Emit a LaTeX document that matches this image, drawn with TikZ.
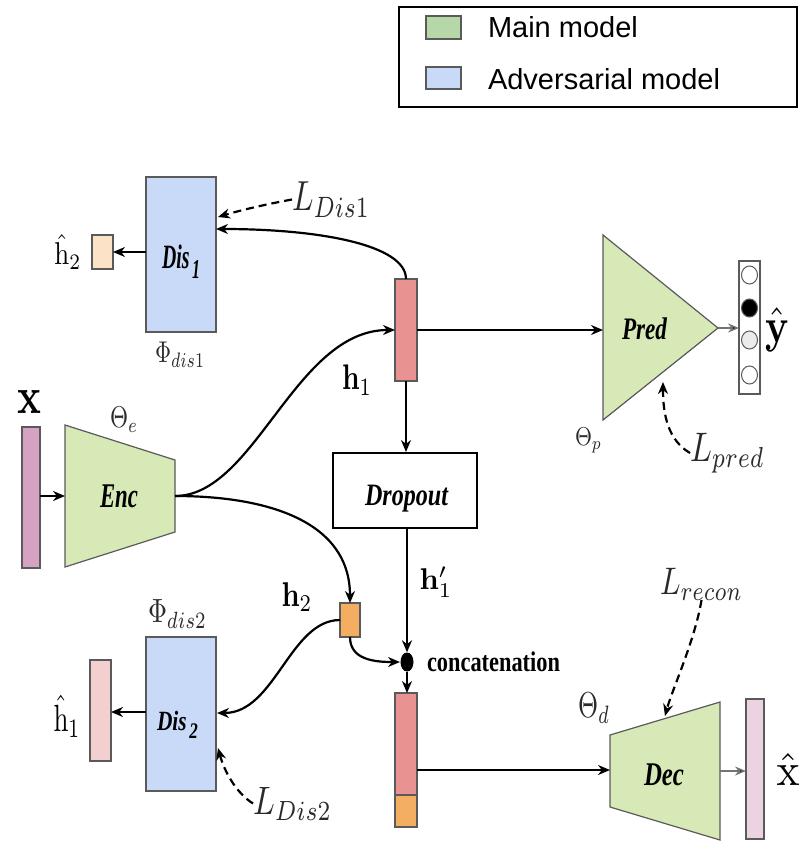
\documentclass[tikz,border=0pt]{standalone}
\usepackage[no-math]{fontspec}
\setmainfont{Liberation Serif}
\newfontfamily\legendfont{Liberation Sans}
\usepackage{graphicx}
\usetikzlibrary{arrows.meta,shapes.geometric}
\definecolor{advblue}{HTML}{C9DAF8}
\definecolor{mainlegend}{HTML}{B6D7A8}
\definecolor{maingreen}{HTML}{D6E9B6}
\definecolor{hone}{HTML}{E89292}
\definecolor{htwo}{HTML}{F4AE62}
\definecolor{htwohat}{HTML}{FCE3C8}
\definecolor{honehat}{HTML}{F4CFCF}
\definecolor{xin}{HTML}{D6A2C2}
\definecolor{xout}{HTML}{ECD3E2}
\definecolor{edgegray}{HTML}{5A5A5A}
\definecolor{labgray}{HTML}{2A2A2A}
\newcommand{\fitbox}[3]{\resizebox*{#1pt}{#2pt}{#3}}
\begin{document}
\begin{tikzpicture}[x=1pt,y=-1pt,
  arr/.style={draw=black, line width=2.2pt, -{Stealth[length=12pt,width=10pt]}},
  thinarr/.style={draw=black!55, line width=1.4pt, -{Stealth[length=11pt,width=9pt,fill=black]}},
  darr/.style={arr, dash pattern=on 8pt off 5pt},
  vecbox/.style={draw=edgegray, line width=1.1pt, inner sep=0pt, outer sep=0pt},
  shapeline/.style={draw=edgegray, line width=1.2pt},
  lbl/.style={inner sep=0pt, outer sep=0pt},
  neuron/.style={ellipse, draw=edgegray, line width=1pt, minimum width=16pt, minimum height=18pt, inner sep=0pt}
]
\useasboundingbox (0,0) rectangle (800,842);

% ---------- legend ----------
\node[draw=black, line width=2pt, minimum width=398pt, minimum height=100pt, inner sep=0pt] (legend) at (598,57) {};
\node[vecbox, fill=mainlegend, minimum width=35pt, minimum height=23pt] (swmain) at (443.5,27.5) {};
\node[vecbox, fill=advblue, minimum width=35pt, minimum height=22pt] (swadv) at (443.5,78) {};
\node[lbl, anchor=base west] (legmain) at (488,38) {\legendfont\fontsize{29}{32}\selectfont Main model};
\node[lbl, anchor=base west] (legadv) at (488,90) {\legendfont\fontsize{29}{32}\selectfont Adversarial model};

% ---------- shapes ----------
\draw[shapeline, fill=maingreen] (65,425) -- (175,460) -- (175,532) -- (65,567) -- cycle;
\draw[shapeline, fill=maingreen] (603,235) -- (718,328) -- (603,420) -- cycle;
\draw[shapeline, fill=maingreen] (610,735) -- (720,702) -- (720,840) -- (610,807) -- cycle;

\coordinate (encL) at (65,496);
\coordinate (encR) at (175,496);
\coordinate (predL) at (603,330);
\coordinate (predA) at (718,328);
\coordinate (predB) at (663,382);
\coordinate (decL) at (610,770);
\coordinate (decR) at (720,771);
\coordinate (decT) at (665,716);
\coordinate (dis1in) at (216,229);
\coordinate (dis1L) at (218,217);
\coordinate (dis2in) at (217,713);
\coordinate (dis2L) at (218,748);
\coordinate (dotW) at (400,662);

\node[vecbox, fill=advblue, minimum width=70pt, minimum height=155pt] (dis1) at (181,254.5) {};
\node[vecbox, fill=advblue, minimum width=70pt, minimum height=154pt] (dis2) at (181,714) {};
\node[vecbox, fill=htwohat, minimum width=21pt, minimum height=34pt] (h2hat) at (102.5,252) {};
\node[vecbox, fill=honehat, minimum width=21pt, minimum height=101pt] (h1hat) at (100.5,710.5) {};
\node[vecbox, fill=hone, minimum width=22pt, minimum height=102pt] (h1v) at (406,330) {};
\node[vecbox, fill=xin, minimum width=18pt, minimum height=141pt] (xv) at (31,497.5) {};
\node[vecbox, fill=xout, minimum width=18pt, minimum height=140pt] (xh) at (755,769) {};
\node[vecbox, fill=htwo, minimum width=20pt, minimum height=34pt] (h2v) at (350,620) {};
\node[vecbox, fill=hone, minimum width=22pt, minimum height=102pt] (cat) at (406,744) {};
\node[vecbox, fill=htwo, minimum width=22pt, minimum height=32pt] (catb) at (406,811) {};
\node[draw=black, line width=2pt, fill=white, minimum width=144pt, minimum height=75pt, inner sep=0pt] (drop) at (405,490.5) {};
\node[ellipse, fill=black, minimum width=13pt, minimum height=19pt, inner sep=0pt] (dot) at (407,662) {};

% output vector y
\node[vecbox, fill=white, minimum width=21pt, minimum height=133pt] (yb) at (749.5,327.5) {};
\node[neuron, fill=white] (n1) at (749.5,275) {};
\node[neuron, fill=black] (n2) at (749.5,308) {};
\node[neuron, fill=black!8] (n3) at (749.5,340) {};
\node[neuron, fill=white] (n4) at (749.5,375) {};

% ---------- block texts ----------
\node[lbl] (dis1t) at (181,261.5) {\fitbox{38}{33}{\bfseries\itshape Dis\raisebox{-0.6ex}{\footnotesize\,1}}};
\node[lbl] (dis2t) at (177.5,725) {\fitbox{41}{27}{\bfseries\itshape Dis\raisebox{-0.6ex}{\footnotesize\,2}}};
\node[lbl] (enct) at (119,496.5) {\fitbox{38}{23}{\bfseries\itshape Enc}};
\node[lbl] (predt) at (644.5,329) {\fitbox{45}{22}{\bfseries\itshape Pred}};
\node[lbl] (dect) at (664,775) {\fitbox{40}{22}{\bfseries\itshape Dec}};
\node[lbl] (dropt) at (406.5,498.5) {\fitbox{83}{27}{\bfseries\itshape Dropout}};
\node[lbl] (catt) at (493.5,662) {\fitbox{133}{20}{\bfseries concatenation}};

% ---------- math labels ----------
\node[lbl] (lx) at (30,402) {\fitbox{24}{23}{$\mathbf{x}$}};
\node[lbl] (lyhat) at (777,330) {\fitbox{24}{44}{$\hat{\mathbf{y}}$}};
\node[lbl] (lxhat) at (788,769) {\fitbox{23}{32}{$\hat{\mathrm{x}}$}};
\node[lbl] (lh1) at (357,380) {\fitbox{30}{30}{$\mathbf{h}_1$}};
\node[lbl] (lh2) at (297,597) {\fitbox{31}{29}{$\mathbf{h}_2$}};
\node[lbl] (lh1p) at (436,582) {\fitbox{33}{30}{$\mathbf{h}'_1$}};
\node[lbl] (lh2hat) at (68,252) {\fitbox{27}{35}{$\hat{\mathrm{h}}_2$}};
\node[lbl] (lh1hat) at (67,716) {\fitbox{27}{42}{$\hat{\mathrm{h}}_1$}};
\node[lbl, text=labgray] (lthe) at (124,419.5) {\fitbox{28}{25}{$\Theta_e$}};
\node[lbl, text=labgray] (lthp) at (588.5,440.5) {\fitbox{27}{25}{$\Theta_p$}};
\node[lbl, text=labgray] (lthd) at (594,708) {\fitbox{32}{30}{$\Theta_d$}};
\node[lbl, text=labgray] (lphi1) at (180,354.5) {\fitbox{50}{25}{$\Phi_{dis1}$}};
\node[lbl, text=labgray] (lphi2) at (177.5,614) {\fitbox{59}{28}{$\Phi_{dis2}$}};
\node[lbl, text=labgray] (ldis1) at (331,199.5) {\fitbox{78}{35}{$L_{Dis1}$}};
\node[lbl, text=labgray] (ldis2) at (292.5,803.5) {\fitbox{79}{33}{$L_{Dis2}$}};
\node[lbl, text=labgray] (lpred) at (727.5,453) {\fitbox{75}{40}{$L_{pred}$}};
\node[lbl, text=labgray] (lrecon) at (701.5,584) {\fitbox{83}{32}{$L_{recon}$}};

% ---------- connectors ----------
\draw[arr] (dis1.west |- h2hat.east) -- (h2hat.east);
\draw[arr] (dis2.west |- 0,712) -- (h1hat.east |- 0,712);
\draw[arr] (xv.east |- encL) -- (encL);
\draw[arr] (h1v.east) -- (predL);
\draw[thinarr] (predA) -- (yb.west |- predA);
\draw[arr] (h1v.south) -- (h1v.south |- drop.north);
\draw[arr] (dot.north |- drop.south) -- (dot.north);
\draw[arr] (dot.south) -- (dot.south |- cat.north);
\draw[arr] (cat.east |- decL) -- (decL);
\draw[thinarr] (decR) -- (xh.west |- decR);

\draw[arr] (h1v.north) .. controls (406,245) and (320,229) .. (dis1in);
\draw[arr] (encR) .. controls (255,496) and (295,330) .. (h1v.west);
\draw[arr] (encR) .. controls (265,496) and (350,520) .. (h2v.north);
\draw[arr] (h2v.west) .. controls (290,620) and (275,713) .. (dis2in);
\draw[arr] (h2v.south) .. controls (350,660) and (375,662) .. (dotW);

\draw[darr] (ldis1.west) .. controls (262,205) and (238,211) .. (dis1L);
\draw[darr] (ldis2.west) .. controls (235,792) and (224,770) .. (dis2L);
\draw[darr] (lpred.west) .. controls (668,440) and (663,415) .. (predB);
\draw[darr] (lrecon.south) .. controls (695,640) and (672,690) .. (decT);
\end{tikzpicture}
\end{document}
